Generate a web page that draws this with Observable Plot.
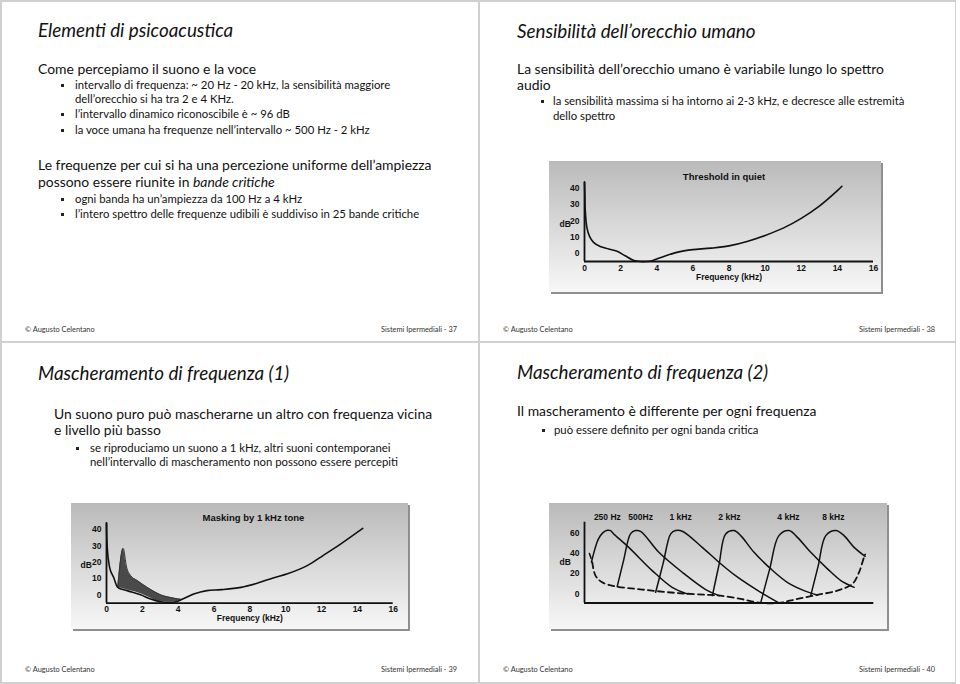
<!DOCTYPE html>
<html><head><meta charset="utf-8">
<script src="https://cdn.jsdelivr.net/npm/d3@7"></script>
<script src="https://cdn.jsdelivr.net/npm/@observablehq/plot@0.6"></script>
<style>
html,body{margin:0;padding:0;background:#fff;}
#page{position:relative;width:960px;height:684px;overflow:hidden;background:#fff;font-family:Lato,"Noto Sans",sans-serif;color:#111;}
.ln{position:absolute;white-space:nowrap;line-height:20px;height:20px;}
.t{font-style:italic;font-size:17px;}
.h{font-size:13px;}
.b{font-size:10.5px;}
.f{font-size:8px;color:#333;}
.sq{position:absolute;width:3px;height:3px;background:#222;}
.rule{position:absolute;background:#d0d0d0;}
.box{position:absolute;background:linear-gradient(to bottom,#bababa 0%,#d6d6d6 45%,#f7f7f7 100%);box-shadow:2px 2px 0 #8f8f8f;}
.box svg{position:absolute;left:0;top:0;}
</style></head><body><div id="page"></div><script>
// ---------- DATA ----------
// Slide 38: Threshold in quiet (frequency kHz, level dB)
const quietFreq = [0, 0.02, 0.04, 0.13, 0.28, 0.5, 0.87, 1.33, 1.8, 2.25, 2.7, 3.1, 3.4, 3.7, 4.0, 4.5, 5.0, 5.5, 6.0, 7.0, 8.0, 9.0, 10.0, 11.0, 12.0, 13.0, 14.0, 14.25];
const quietDb   = [44, 35, 27, 16, 10.4, 6.7, 4.2, 2.7, 1.3, -1.5, -4.2, -5, -5, -4.7, -3.5, -1.5, 0.3, 1.5, 2.3, 3.2, 4.6, 7.3, 11, 15.5, 21.5, 29, 38.5, 41.2];
// Slide 39: threshold + masking by 1 kHz tone
const maskThrFreq = [0, 0.02, 0.09, 0.22, 0.41, 0.63, 1.15, 1.9, 2.46, 3.0, 3.57, 3.94, 4.2, 4.87, 5.6, 6.4, 7.5, 8.4, 9.3, 10.1, 11.2, 12.1, 13.1, 14.3];
const maskThrDb   = [44.3, 34, 23, 15, 10.5, 4.7, 2.7, 0.2, -2.5, -4.1, -4.5, -3.9, -2.7, 0.6, 2.7, 3.3, 4.7, 7.2, 10.5, 13, 18, 24.3, 31.5, 40.8];
const maskFreq    = [0.63, 0.93, 1.12, 1.34, 1.71, 2.27, 3.01, 3.76, 4.2];
const maskUpperDb = [4.7, 28.5, 17.1, 12, 8.9, 4.7, 0.2, -1.9, -2.7];
const maskLowerDb = [4.7, 3.8, 3.2, 2.6, 1.5, -0.9, -4.1, -4.3, -2.7];
// Slide 40: masking curves per band (position along band axis 0-100, level dB)
const bandNames    = ["250 Hz", "500Hz", "1 kHz", "2 kHz", "4 kHz", "8 kHz"];
const bandLabelPos = [7.9, 19.4, 33.2, 50.1, 70.5, 86.0];
const b250Pos = [2.4, 3.6, 4.7, 6.3, 7.9, 9.0, 10.1, 15.3, 23.4, 30.3, 35.5];
const b250Db  = [31.3, 44.6, 53.8, 60.4, 63, 62.7, 59.4, 46.1, 23.1, 6.5, 0];
const b500Pos = [11.3, 13.5, 15.9, 17.6, 19.4, 25.7, 33.8, 41.9, 46.5];
const b500Db  = [7.2, 33, 59.4, 62.7, 62, 41.2, 21.4, 4.3, -1.7];
const b1kPos  = [24.6, 27.2, 29.8, 31.5, 33.8, 40.7, 46.5, 52.2, 60.9, 67.2];
const b1kDb   = [1.6, 30.5, 59.4, 62.7, 62, 46.1, 31.3, 18.1, 1.6, -8.9];
const b2kPos  = [44.2, 46.5, 48.8, 51.7, 54.0, 58.6, 64.4, 70.1, 75.9, 80.5];
const b2kDb   = [-1.7, 29, 59.4, 62.7, 57.7, 41.2, 24.8, 11.5, 3.3, -1];
const b4kPos  = [60.9, 64.0, 67.2, 70.7, 73.6, 78.2, 84.0, 88.6, 93.2];
const b4kDb   = [-8.9, 24.5, 57.7, 62.7, 56, 41.2, 24.8, 13.2, 6.5];
const b8kPos  = [78.2, 80.8, 83.4, 86.9, 89.7, 93.2, 97.0];
const b8kDb   = [-1.7, 28, 57.7, 62.7, 57.7, 46.1, 37.2];
const strayPos = [1.7, 2.3];
const strayDb  = [40, 35];
const thrPos = [2.7, 3.8, 6.1, 10.7, 20.0, 31.5, 43.0, 47.0, 54.0, 60.9, 67.2, 73.6, 80.5, 87.4, 92.6, 94.9, 96.6, 97.0];
const thrDb  = [31.3, 18.1, 11.5, 7.5, 4.3, 1.0, -1.0, -1.7, -5, -8.9, -8.9, -5, -1, 3.3, 9.9, 21.4, 36.2, 39];
// Tick labels
const freqTicks = [0, 2, 4, 6, 8, 10, 12, 14, 16];
const dbTicks40 = [0, 10, 20, 30, 40];
const dbTicks60 = [0, 20, 40, 60];

// ---------- PAGE TEXT ----------
const page = document.getElementById("page");
function rule(l, t, w, h) {
  const d = document.createElement("div"); d.className = "rule";
  Object.assign(d.style, {left: l + "px", top: t + "px", width: w + "px", height: h + "px"});
  page.appendChild(d);
}
rule(0, 0, 956, 1.5); rule(0, 0, 1.5, 684); rule(954.5, 0, 1.5, 684); rule(0, 682, 956, 1.5);
rule(477.5, 0, 2, 684); rule(0, 340.5, 956, 2);

const lines = [
  {c:"t", x:38, y:30, s:"Elementi di psicoacustica", w:195},
  {c:"h", x:38, y:69, s:"Come percepiamo il suono e la voce", w:217},
  {c:"b", x:75, y:85, s:"intervallo di frequenza: ~ 20 Hz - 20 kHz, la sensibilità maggiore", w:317, bx:62},
  {c:"b", x:75, y:99, s:"dell’orecchio si ha tra 2 e 4 KHz."},
  {c:"b", x:75, y:114, s:"l’intervallo dinamico riconoscibile è ~ 96 dB", bx:62},
  {c:"b", x:75, y:130, s:"la voce umana ha frequenze nell’intervallo ~ 500 Hz - 2 kHz", w:295, bx:62},
  {c:"h", x:38, y:165, s:"Le frequenze per cui si ha una percezione uniforme dell’ampiezza", w:399},
  {c:"h", x:38, y:182, s:"possono essere riunite in <i>bande critiche</i>"},
  {c:"b", x:75, y:199, s:"ogni banda ha un’ampiezza da 100 Hz a 4 kHz", w:225, bx:62},
  {c:"b", x:75, y:214, s:"l’intero spettro delle frequenze udibili è suddiviso in 25 bande critiche", w:348, bx:62},
  {c:"f", x:25, y:330, s:"© Augusto Celentano", w:68},
  {c:"f", r:457, y:330, s:"Sistemi Ipermediali - 37", w:78},

  {c:"t", x:517, y:31, s:"Sensibilità dell’orecchio umano", w:241},
  {c:"h", x:517, y:69, s:"La sensibilità dell’orecchio umano è variabile lungo lo spettro", w:371},
  {c:"h", x:517, y:85, s:"audio"},
  {c:"b", x:553, y:101, s:"la sensibilità massima si ha intorno ai 2-3 kHz, e decresce alle estremità", w:357, bx:542},
  {c:"b", x:553, y:116, s:"dello spettro"},
  {c:"f", x:503, y:330, s:"© Augusto Celentano"},
  {c:"f", r:935, y:330, s:"Sistemi Ipermediali - 38"},

  {c:"t", x:38, y:373, s:"Mascheramento di frequenza (1)", w:249},
  {c:"h", x:54, y:414, s:"Un suono puro può mascherarne un altro con frequenza vicina", w:372},
  {c:"h", x:54, y:430, s:"e livello più basso"},
  {c:"b", x:90, y:448, s:"se riproduciamo un suono a 1 kHz, altri suoni contemporanei", w:292, bx:77},
  {c:"b", x:90, y:462, s:"nell’intervallo di mascheramento non possono essere percepiti", w:310},
  {c:"f", x:25, y:670, s:"© Augusto Celentano"},
  {c:"f", r:457, y:670, s:"Sistemi Ipermediali - 39"},

  {c:"t", x:517, y:372, s:"Mascheramento di frequenza (2)"},
  {c:"h", x:517, y:411, s:"Il mascheramento è differente per ogni frequenza", w:300},
  {c:"b", x:554, y:430, s:"può essere definito per ogni banda critica", w:204, bx:543},
  {c:"f", x:503, y:670, s:"© Augusto Celentano"},
  {c:"f", r:935, y:670, s:"Sistemi Ipermediali - 40"}
];
const groups = {};
for (const L of lines) {
  const d = document.createElement("div");
  d.className = "ln " + L.c;
  d.innerHTML = L.s;
  d.style.top = (L.y - 10) + "px";
  if (L.r !== undefined) d.style.right = (960 - L.r) + "px"; else d.style.left = L.x + "px";
  page.appendChild(d);
  (groups[L.c] = groups[L.c] || {els: [], refs: []}).els.push(d);
  if (L.w) groups[L.c].refs.push([d, L.w]);
  if (L.bx !== undefined) {
    const q = document.createElement("div"); q.className = "sq";
    q.style.left = (L.bx - 1.5) + "px"; q.style.top = (L.y - 1.5) + "px";
    page.appendChild(q);
  }
}
for (const k in groups) {
  const g = groups[k];
  if (!g.refs.length) continue;
  let sum = 0;
  for (const [d, w] of g.refs) sum += w / d.getBoundingClientRect().width;
  const base = parseFloat(getComputedStyle(g.els[0]).fontSize);
  const fs = base * sum / g.refs.length;
  for (const d of g.els) d.style.fontSize = fs.toFixed(2) + "px";
}

// ---------- CHARTS ----------
const chartStyle = {background: "transparent", fontFamily: "'Liberation Sans', Arial, sans-serif",
  fontWeight: "bold", fontSize: "8.5px", color: "#111", overflow: "visible"};
function place(left, top, w, h, svg) {
  const box = document.createElement("div"); box.className = "box";
  Object.assign(box.style, {left: left + "px", top: top + "px", width: w + "px", height: h + "px"});
  box.appendChild(svg); page.appendChild(box);
}
const zip = (xs, ys) => xs.map((x, i) => ({x, y: ys[i]}));

// Slide 38 chart
const quiet = zip(quietFreq, quietDb);
place(549, 161, 332, 131, Plot.plot({
  width: 332, height: 131, marginLeft: 35, marginRight: 8, marginTop: 21, marginBottom: 31,
  style: chartStyle,
  x: {domain: [0, 16], ticks: freqTicks, tickSize: 0, tickPadding: 3, label: null},
  y: {domain: [-5, 43.5], ticks: dbTicks40, tickSize: 0, tickPadding: 5, label: null},
  marks: [
    Plot.ruleY([-5], {stroke: "#111", strokeWidth: 1.8}),
    Plot.ruleX([0], {stroke: "#111", strokeWidth: 1.8}),
    Plot.line(quiet, {x: "x", y: "y", curve: "catmull-rom", stroke: "#111", strokeWidth: 1.6}),
    Plot.text(["Threshold in quiet"], {frameAnchor: "top", dy: -9, dx: -5, fontSize: 9.5, fill: "#111"}),
    Plot.text(["Frequency (kHz)"], {frameAnchor: "bottom", dy: 18, fill: "#111"}),
    Plot.text(["dB"], {frameAnchor: "left", dx: -25, dy: 2, fontSize: 8.5, fill: "#111"})
  ]
}));

// Slide 39 chart
const thr3 = zip(maskThrFreq, maskThrDb);
const mask = maskFreq.map((f, i) => ({x: f, hi: maskUpperDb[i], lo: maskLowerDb[i]}));
place(71, 503, 337, 126, Plot.plot({
  width: 337, height: 126, marginLeft: 35, marginRight: 15.3, marginTop: 19.7, marginBottom: 26.3,
  style: chartStyle,
  x: {domain: [0, 16], ticks: freqTicks, tickSize: 0, tickPadding: 3, label: null},
  y: {domain: [-5, 44], ticks: dbTicks40, tickSize: 0, tickPadding: 5, label: null},
  marks: [
    Plot.areaY(mask, {x: "x", y1: "lo", y2: "hi", fill: "#4a4a4a", curve: "monotone-x"}),
    Plot.line(mask, {x: "x", y: "hi", curve: "monotone-x", stroke: "#333", strokeWidth: 1}),
    Plot.ruleY([-5], {stroke: "#111", strokeWidth: 1.8}),
    Plot.ruleX([0], {stroke: "#111", strokeWidth: 1.8}),
    Plot.line(thr3, {x: "x", y: "y", curve: "catmull-rom", stroke: "#111", strokeWidth: 1.6}),
    Plot.text(["Masking by 1 kHz tone"], {frameAnchor: "top", dy: -8.7, dx: 3.6, fontSize: 9.5, fill: "#111"}),
    Plot.text(["Frequency (kHz)"], {frameAnchor: "bottom", dy: 17.3, fill: "#111"}),
    Plot.text(["dB"], {frameAnchor: "left", dx: -26, dy: 2.3, fontSize: 8.5, fill: "#111"})
  ]
}));

// Slide 40 chart
const bands = [
  ["250", b250Pos, b250Db], ["500", b500Pos, b500Db], ["1k", b1kPos, b1kDb],
  ["2k", b2kPos, b2kDb], ["4k", b4kPos, b4kDb], ["8k", b8kPos, b8kDb], ["stray", strayPos, strayDb]
].flatMap(([s, xs, ys]) => xs.map((x, i) => ({s, x, y: ys[i]})));
const thr4 = zip(thrPos, thrDb);
const labels4 = bandNames.map((n, i) => ({n, x: bandLabelPos[i]}));
place(549, 503, 338, 126, Plot.plot({
  width: 338, height: 126, marginLeft: 35, marginRight: 13.7, marginTop: 18.7, marginBottom: 26.5,
  style: chartStyle,
  x: {domain: [0, 100], axis: null},
  y: {domain: [-9, 71], ticks: dbTicks60, tickSize: 0, tickPadding: 5, label: null},
  marks: [
    Plot.ruleY([-9], {stroke: "#111", strokeWidth: 1.8}),
    Plot.ruleX([0], {stroke: "#111", strokeWidth: 1.8}),
    Plot.line(thr4, {x: "x", y: "y", curve: "catmull-rom", stroke: "#111", strokeWidth: 1.8, strokeDasharray: "6,4"}),
    Plot.line(bands, {x: "x", y: "y", z: "s", curve: "catmull-rom", stroke: "#111", strokeWidth: 1.5}),
    Plot.text(labels4, {x: "x", text: "n", frameAnchor: "top", dy: -8, fill: "#111"}),
    Plot.text(["dB"], {frameAnchor: "left", dx: -25, dy: 0, fontSize: 8.5, fill: "#111"})
  ]
}));
</script></body></html>
